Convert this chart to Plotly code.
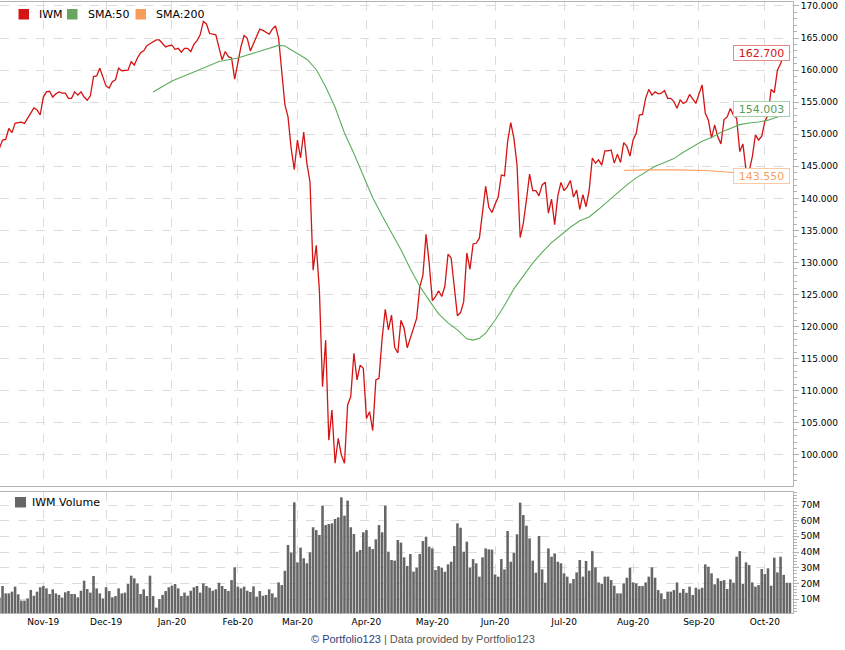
import pandas as pd
import plotly.graph_objects as go

# ---------------- data ----------------
holidays = ["2019-11-28", "2019-12-25", "2020-01-01", "2020-01-20", "2020-02-17",
            "2020-04-10", "2020-05-25", "2020-07-03", "2020-09-07"]
dates = [d.strftime("%Y-%m-%d") for d in pd.bdate_range("2019-10-14", "2020-10-13")
         if d.strftime("%Y-%m-%d") not in holidays]

month_ticks = ["2019-11-01", "2019-12-02", "2020-01-02", "2020-02-03", "2020-03-02", "2020-04-01",
               "2020-05-01", "2020-06-01", "2020-07-01", "2020-08-03", "2020-09-01", "2020-10-01"]
month_labels = ["Nov-19", "Dec-19", "Jan-20", "Feb-20", "Mar-20", "Apr-20",
                "May-20", "Jun-20", "Jul-20", "Aug-20", "Sep-20", "Oct-20"]

iwm = [147.8, 149.1, 149.2, 150.9, 150.25, 151.7, 151.8, 151.9, 151.7, 152.5,
       153.3, 154.1, 153.8, 153.0, 155.8, 156.6, 156.7, 155.8, 156.3, 156.6,
       156.4, 156.4, 155.6, 155.6, 156.6, 156.1, 156.6, 155.8, 155.3, 156.0,
       159.0, 159.1, 160.3, 158.7, 157.5, 157.2, 158.2, 158.5, 160.3, 159.9,
       160.0, 160.0, 161.3, 160.8, 161.9, 162.7, 163.0, 163.8, 164.1, 164.4,
       164.7, 164.7, 164.2, 163.6, 163.8, 163.9, 163.25, 163.4, 162.8, 163.4,
       163.4, 162.9, 164.0, 164.6, 165.5, 167.6, 167.2, 165.7, 165.6, 165.5,
       163.5, 161.6, 162.9, 162.1, 161.9, 158.6, 161.1, 163.65, 165.4, 164.96,
       163.0, 164.2, 165.5, 166.4, 166.2, 165.9, 165.6, 166.4, 166.9, 165.0,
       160.0, 154.6, 152.7, 147.8, 144.5, 149.1, 146.3, 150.35, 145.5, 142.6,
       128.8, 132.7, 125.7, 110.65, 117.9, 102.3, 107.0, 98.7, 102.6, 100.0,
       98.7, 107.8, 109.1, 115.85, 111.7, 114.0, 113.5, 105.7, 106.75, 103.8,
       111.7, 111.95, 118.2, 122.7, 119.5, 121.8, 116.8, 115.9, 121.0, 119.75,
       116.7, 118.2, 119.5, 121.3, 126.2, 128.0, 134.4, 129.9, 124.05, 124.7,
       125.6, 124.7, 126.3, 131.3, 130.7, 126.2, 121.7, 122.2, 123.9, 131.5,
       128.95, 132.9, 133.0, 133.8, 138.2, 141.9, 138.6, 137.8, 139.1, 140.2,
       143.65, 143.5, 148.85, 151.8, 149.4, 145.2, 133.9, 136.1, 139.75, 143.8,
       141.2, 141.2, 140.4, 142.1, 142.5, 137.7, 139.9, 135.9, 140.4, 142.5,
       141.2, 141.8, 142.8, 140.2, 141.3, 138.3, 140.6, 138.7, 141.3, 146.3,
       145.5, 146.0, 145.2, 147.4, 147.4, 147.55, 145.5, 146.9, 145.6, 148.7,
       148.1, 146.6, 149.1, 150.15, 153.0, 153.1, 155.6, 157.0, 156.1, 156.6,
       156.3, 156.4, 156.8, 155.6, 155.6, 155.1, 154.05, 155.35, 154.8, 155.1,
       156.2, 155.45, 154.8, 156.3, 157.7, 153.3, 152.2, 149.4, 151.45, 149.6,
       148.5, 152.3, 152.7, 154.0, 153.0, 152.5, 147.3, 148.5, 144.4, 144.2,
       146.5, 149.9, 149.1, 149.7, 152.0, 153.0, 157.0, 156.5, 160.0, 161.0,
       162.3, 163.6, 162.7]

sma50_idx = [49, 55, 62, 68, 70, 76, 80, 83, 87, 89, 91, 94, 98, 101, 104, 107, 110, 113,
             116, 119, 122, 125, 128, 131, 134, 137, 140, 143, 146, 149, 151, 153, 155, 158,
             161, 164, 167, 170, 173, 176, 179, 182, 185, 188, 191, 194, 197, 200, 203, 206,
             209, 212, 215, 218, 221, 224, 227, 230, 233, 236, 239, 242, 245, 248, 250, 252]
sma50 = [156.6, 158.3, 159.7, 161.0, 161.35, 161.9, 162.5, 162.9, 163.5, 163.85, 163.75,
         162.9, 161.7, 160.1, 157.4, 154.2, 150.2, 147.0, 143.6, 140.1, 137.3, 134.6, 132.0,
         129.0, 126.3, 124.1, 122.0, 120.6, 119.5, 118.1, 117.9, 118.2, 119.0, 121.0, 123.3,
         125.9, 128.0, 129.9, 131.6, 133.1, 134.3, 135.5, 136.5, 137.1, 138.3, 139.6, 140.8,
         142.1, 143.2, 144.1, 145.0, 145.6, 146.2, 147.2, 148.0, 148.9, 149.5, 150.3, 150.9,
         151.5, 151.75, 151.9, 152.2, 152.7, 153.3, 154.003]

sma200_idx = [199, 205, 215, 225, 235, 244, 252]
sma200 = [144.35, 144.45, 144.45, 144.35, 144.0, 143.8, 143.55]

volume_m = [11, 18.3, 13.6, 13.6, 14.7, 17.9, 13, 9, 9, 10.4,
            15.8, 12.1, 14.7, 17.5, 18.3, 16.8, 13.2, 16.2, 13.6, 12.6,
            10.9, 14.3, 15.1, 13.2, 13.2, 11.1, 15.3, 21.7, 16.4, 14.1,
            24.7, 16.8, 13.6, 10.4, 17.5, 15.1, 11.1, 11.9, 16.8, 13.6,
            14.1, 19.6, 24.9, 23.2, 20, 13.2, 16.2, 11.9, 24.9, 11.9,
            4.5, 10.0, 12.6, 15.1, 17.5, 18.5, 19.6, 16.8, 11.9, 14.1,
            12.1, 15.3, 17.5, 18.3, 14.1, 20, 18.3, 17.2, 15.3, 16.2,
            20.4, 18.3, 16.4, 15.1, 22.1, 30.2, 17.9, 16.8, 17.9, 15.3,
            14.5, 18.1, 11.5, 15.1, 12.1, 12.6, 16.2, 13.6, 11.1, 20.6,
            18.9, 28, 44.5, 39.6, 71.7, 33.4, 42.8, 36, 32.8, 39.8,
            55.8, 54, 50.9, 69.6, 57.2, 57.9, 58.3, 61.1, 62.1, 74.9,
            63.2, 72.8, 55.8, 51.5, 40.2, 41.3, 52.6, 54, 43.4, 41.9,
            48.1, 57.2, 52.6, 69.6, 40.2, 34.9, 34.5, 47.7, 46, 36.6,
            31.1, 38.7, 27.5, 30,
            38.7, 47, 49.8, 43.4, 42.3, 28.5, 31, 30, 27.4, 32.1,
            33.8, 43.8, 58.3, 55.5, 40.2, 46.6, 30, 35.5, 32.8, 24.3,
            36.6, 42.3, 41.7, 41.5, 25.7, 24.3, 35.5, 28.9, 53.4, 33.8,
            39.6, 51.3, 71.5, 63.6, 56.8, 48.7, 34.5, 26.8, 50.2, 28.9,
            20.4, 42.3, 37, 39.1, 33.8, 32.8, 26.4, 24.3, 20, 22.8,
            27, 34.9, 24.3, 34.3, 28.1, 40.6, 30.2, 20.6, 19.6, 24.3,
            24.3, 22.1, 18.5, 13.6, 13.6, 20, 23.6, 30, 20.6, 20,
            18.3, 18.3, 20.6, 24.3, 30.2, 23.6, 15.7, 13.6, 10, 14.7,
            14.7, 15.7, 20.6, 14, 16.4, 14, 17.9, 12.6, 17.2, 16.2,
            17.2, 32.1, 30.6, 26.4, 19.4, 23.2, 21.5, 22.1, 16.4, 22.6,
            20.4, 37, 40.6, 19.6, 33.4, 31.7, 20.6, 17.9, 18.9, 29.1,
            26, 29.6, 18.5, 36.4, 27, 37, 25.4, 20.4, 20.4]

last_labels = ["162.700", "154.003", "143.550"]
last_values = [162.7, 154.003, 143.55]

# ---------------- styling ----------------
FONT = "DejaVu Sans"
RED, GREEN, ORANGE, GREY = "#d41414", "#5cad5c", "#f9a060", "#666666"
GRID = "#dcdcdc"
FRAME = "#b4b4b4"
W_PLOT, TOP, BOT = 793, 2, 613


def px_x(px):
    return px / W_PLOT


def px_y(py):
    return (BOT - py) / (BOT - TOP)


vol = [v * 1e6 for v in volume_m]
sma50_x = [dates[i] for i in sma50_idx]
sma200_x = [dates[i] for i in sma200_idx]

fig = go.Figure()
fig.add_trace(go.Scatter(x=dates, y=iwm, mode="lines", line=dict(color=RED, width=1.3),
                         xaxis="x", yaxis="y", showlegend=False, hoverinfo="skip"))
fig.add_trace(go.Scatter(x=sma50_x, y=sma50, mode="lines", line=dict(color=GREEN, width=1.1),
                         xaxis="x", yaxis="y", showlegend=False, hoverinfo="skip"))
fig.add_trace(go.Scatter(x=sma200_x, y=sma200, mode="lines", line=dict(color=ORANGE, width=1.2),
                         xaxis="x", yaxis="y", showlegend=False, hoverinfo="skip"))
fig.add_trace(go.Bar(x=dates, y=vol, marker=dict(color=GREY, line=dict(width=0)),
                     xaxis="x2", yaxis="y2", showlegend=False, hoverinfo="skip"))

xcommon = dict(type="category", categoryorder="array", categoryarray=dates,
               range=[0.19, 252.97], tickmode="array", tickvals=month_ticks,
               showgrid=True, gridcolor=GRID, griddash="dash", gridwidth=1,
               showline=True, linecolor=FRAME, linewidth=1, mirror=True,
               ticks="", zeroline=False)

fig.update_layout(
    width=845, height=650,
    margin=dict(l=0, r=845 - W_PLOT, t=TOP, b=650 - BOT),
    paper_bgcolor="white", plot_bgcolor="white",
    font=dict(family=FONT, size=9, color="#000"),
    bargap=0.18,
    showlegend=False,
    xaxis=dict(**xcommon, domain=[0, 1], anchor="y", showticklabels=False),
    xaxis2=dict(**xcommon, domain=[0, 1], anchor="y2", matches="x", showticklabels=True,
                ticktext=month_labels, tickfont=dict(size=9, family=FONT, color="#000")),
    yaxis=dict(domain=[px_y(486), 1], anchor="x", side="right", range=[95.16, 170.62],
               tick0=100, dtick=5, tickformat=".3f", showgrid=True, gridcolor=GRID,
               griddash="dash", showline=True, linecolor=FRAME, linewidth=1, mirror=True,
               ticks="outside", ticklen=5, tickcolor=FRAME, zeroline=False,
               minor=dict(dtick=1, ticks="outside", ticklen=3, tickcolor=FRAME, showgrid=False),
               tickfont=dict(size=9, family=FONT, color="#000")),
    yaxis2=dict(domain=[0, px_y(492)], anchor="x2", side="right", range=[1.08e6, 78.3e6],
                tick0=0, dtick=1e7, tickformat="~s", showgrid=True, gridcolor=GRID,
                griddash="dash", showline=True, linecolor=FRAME, linewidth=1, mirror=True,
                ticks="outside", ticklen=5, tickcolor=FRAME, zeroline=False,
                minor=dict(dtick=2e6, ticks="outside", ticklen=3, tickcolor=FRAME, showgrid=False),
                tickfont=dict(size=9, family=FONT, color="#000")),
)

# legend swatches and texts (paper coords)
legend_items = [("IWM", RED, 18.5, 37), ("SMA:50", "#66a65e", 67, 85.5), ("SMA:200", "#f89c5c", 135.5, 154)]
for name, col, sx, tx in legend_items:
    fig.add_shape(type="rect", xref="paper", yref="paper", x0=px_x(sx), x1=px_x(sx + 10.5),
                  y0=px_y(19.5), y1=px_y(9), fillcolor=col, line=dict(width=0))
    fig.add_annotation(xref="paper", yref="paper", x=px_x(tx), y=px_y(14.5), text=name,
                       showarrow=False, xanchor="left", yanchor="middle",
                       font=dict(size=11, family=FONT, color="#000"))
fig.add_shape(type="rect", xref="paper", yref="paper", x0=px_x(15), x1=px_x(26),
              y0=px_y(507.5), y1=px_y(497), fillcolor=GREY, line=dict(width=0))
fig.add_annotation(xref="paper", yref="paper", x=px_x(30), y=px_y(502.5), text="IWM Volume",
                   showarrow=False, xanchor="left", yanchor="middle",
                   font=dict(size=11, family=FONT, color="#000"))

# last value labels
label_styles = [(RED, "#e58a8a"), ("#5a9e5a", "#a9d2a9"), ("#f7a062", "#fccaa2")]
for txt, val, (tc, bc) in zip(last_labels, last_values, label_styles):
    fig.add_annotation(xref="paper", yref="y", x=1, y=val, xshift=-3, text=txt,
                       showarrow=False, xanchor="right", yanchor="middle",
                       font=dict(size=11, family=FONT, color=tc),
                       bgcolor="white", bordercolor=bc, borderwidth=1, borderpad=1,
                       width=53, height=12)

# footer
fig.add_annotation(xref="paper", yref="paper", x=(422.5) / W_PLOT, y=px_y(638.5),
                   text="<span style='color:#2c3e78'>© Portfolio123</span> | Data provided by Portfolio123",
                   showarrow=False, xanchor="center", yanchor="middle",
                   font=dict(size=11, family="Liberation Sans", color="#555"))

fig.write_html("out.html")
